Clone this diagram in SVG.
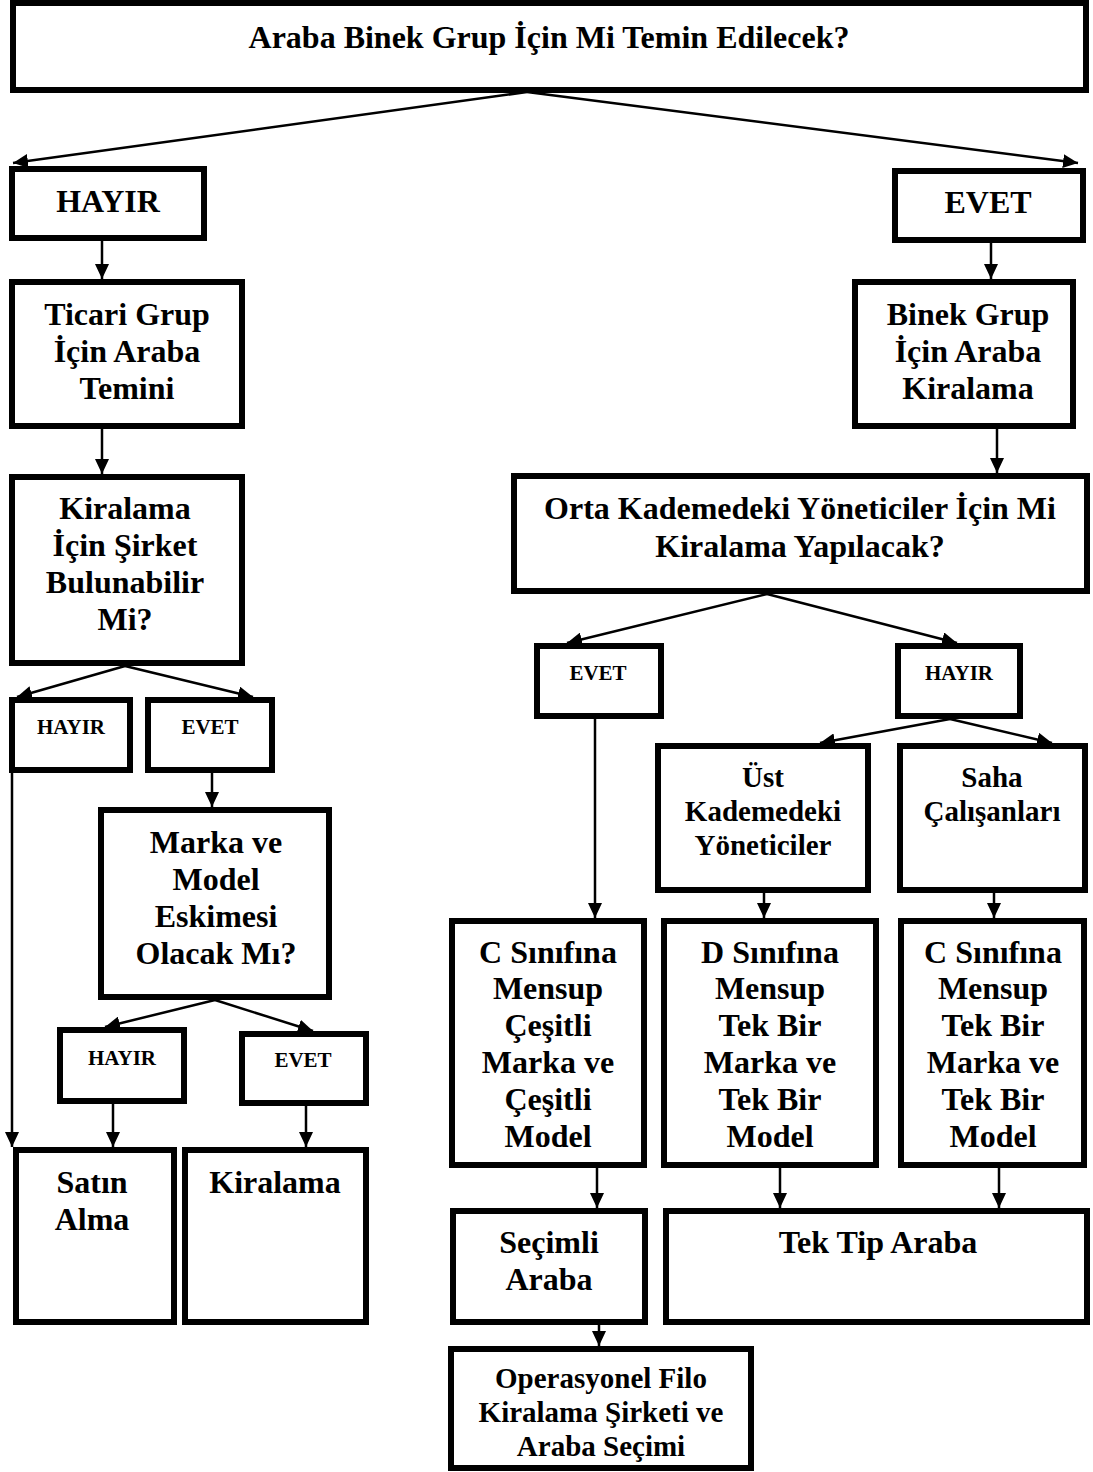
<svg xmlns="http://www.w3.org/2000/svg" width="1093" height="1472" viewBox="0 0 1093 1472">
  <style>
    .box { fill: #fff; stroke: #000; stroke-width: 6; }
    .lbl { font-family: "Liberation Serif", "Times New Roman", serif; font-weight: bold; text-anchor: middle; fill: #000; }
    .t32 { font-size: 32px; }
    .t29 { font-size: 29px; }
    .t21 { font-size: 21px; }
    .edge { fill: none; stroke: #000; stroke-width: 2.5; marker-end: url(#arrow); }
  </style>
  <defs>
    <marker id="arrow" markerUnits="userSpaceOnUse" markerWidth="16" markerHeight="14" refX="15" refY="7" orient="auto">
      <path d="M0,0 L15,7 L0,14 z" fill="#000"/>
    </marker>
  </defs>
  <rect width="1093" height="1472" fill="#fff"/>

  <g id="connectors">
    <path class="edge" d="M527,92 L13,163"/>
    <path class="edge" d="M527,92 L1078,163"/>
    <path class="edge" d="M102,241 L102,279"/>
    <path class="edge" d="M102,429 L102,474"/>
    <path class="edge" d="M125,666 L17,697"/>
    <path class="edge" d="M125,666 L253,697"/>
    <path class="edge" d="M12,773 L12,1147"/>
    <path class="edge" d="M212,773 L212,807"/>
    <path class="edge" d="M215,1000 L105,1027"/>
    <path class="edge" d="M215,1000 L313,1031"/>
    <path class="edge" d="M113,1104 L113,1147"/>
    <path class="edge" d="M306,1106 L306,1147"/>
    <path class="edge" d="M991,243 L991,279"/>
    <path class="edge" d="M997,429 L997,473"/>
    <path class="edge" d="M767,594 L567,643"/>
    <path class="edge" d="M767,594 L957,643"/>
    <path class="edge" d="M595,719 L595,918"/>
    <path class="edge" d="M950,719 L820,743"/>
    <path class="edge" d="M950,719 L1052,743"/>
    <path class="edge" d="M764,893 L764,918"/>
    <path class="edge" d="M994,893 L994,918"/>
    <path class="edge" d="M597,1168 L597,1208"/>
    <path class="edge" d="M780,1168 L780,1208"/>
    <path class="edge" d="M999,1168 L999,1208"/>
    <path class="edge" d="M599,1325 L599,1346"/>
  </g>

  <g id="q-binek">
    <rect class="box" x="13" y="3" width="1073" height="87"/>
    <text class="lbl t32" x="549" y="48">Araba Binek Grup İçin Mi Temin Edilecek?</text>
  </g>

  <g id="hayir-1">
    <rect class="box" x="12" y="169" width="192" height="69"/>
    <text class="lbl t32" x="108" y="212">HAYIR</text>
  </g>
  <g id="evet-1">
    <rect class="box" x="895" y="171" width="188" height="69"/>
    <text class="lbl t32" x="988" y="213">EVET</text>
  </g>

  <g id="ticari">
    <rect class="box" x="12" y="282" width="230" height="144"/>
    <text class="lbl t32" x="127" y="325">Ticari Grup</text>
    <text class="lbl t32" x="127" y="362">İçin Araba</text>
    <text class="lbl t32" x="127" y="399">Temini</text>
  </g>

  <g id="q-sirket">
    <rect class="box" x="12" y="477" width="230" height="186"/>
    <text class="lbl t32" x="125" y="519">Kiralama</text>
    <text class="lbl t32" x="125" y="556">İçin Şirket</text>
    <text class="lbl t32" x="125" y="593">Bulunabilir</text>
    <text class="lbl t32" x="125" y="630">Mi?</text>
  </g>

  <g id="hayir-2">
    <rect class="box" x="12" y="700" width="118" height="70"/>
    <text class="lbl t21" x="71" y="734">HAYIR</text>
  </g>
  <g id="evet-2">
    <rect class="box" x="148" y="700" width="124" height="70"/>
    <text class="lbl t21" x="210" y="734">EVET</text>
  </g>

  <g id="q-eskime">
    <rect class="box" x="101" y="810" width="228" height="187"/>
    <text class="lbl t32" x="216" y="853">Marka ve</text>
    <text class="lbl t32" x="216" y="890">Model</text>
    <text class="lbl t32" x="216" y="927">Eskimesi</text>
    <text class="lbl t32" x="216" y="964">Olacak Mı?</text>
  </g>

  <g id="hayir-3">
    <rect class="box" x="60" y="1030" width="124" height="71"/>
    <text class="lbl t21" x="122" y="1065">HAYIR</text>
  </g>
  <g id="evet-3">
    <rect class="box" x="242" y="1034" width="124" height="69"/>
    <text class="lbl t21" x="303" y="1067">EVET</text>
  </g>

  <g id="satin-alma">
    <rect class="box" x="16" y="1150" width="158" height="172"/>
    <text class="lbl t32" x="92" y="1193">Satın</text>
    <text class="lbl t32" x="92" y="1230">Alma</text>
  </g>
  <g id="kiralama">
    <rect class="box" x="185" y="1150" width="181" height="172"/>
    <text class="lbl t32" x="275" y="1193">Kiralama</text>
  </g>

  <g id="binek">
    <rect class="box" x="855" y="282" width="218" height="144"/>
    <text class="lbl t32" x="968" y="325">Binek Grup</text>
    <text class="lbl t32" x="968" y="362">İçin Araba</text>
    <text class="lbl t32" x="968" y="399">Kiralama</text>
  </g>

  <g id="q-orta">
    <rect class="box" x="514" y="476" width="573" height="115"/>
    <text class="lbl t32" x="800" y="519">Orta Kademedeki Yöneticiler İçin Mi</text>
    <text class="lbl t32" x="800" y="557">Kiralama Yapılacak?</text>
  </g>

  <g id="evet-4">
    <rect class="box" x="537" y="646" width="124" height="70"/>
    <text class="lbl t21" x="598" y="680">EVET</text>
  </g>
  <g id="hayir-4">
    <rect class="box" x="898" y="646" width="122" height="70"/>
    <text class="lbl t21" x="959" y="680">HAYIR</text>
  </g>

  <g id="ust-kademe">
    <rect class="box" x="658" y="746" width="210" height="144"/>
    <text class="lbl t29" x="763" y="787">Üst</text>
    <text class="lbl t29" x="763" y="821">Kademedeki</text>
    <text class="lbl t29" x="763" y="855">Yöneticiler</text>
  </g>
  <g id="saha">
    <rect class="box" x="900" y="746" width="185" height="144"/>
    <text class="lbl t29" x="992" y="787">Saha</text>
    <text class="lbl t29" x="992" y="821">Çalışanları</text>
  </g>

  <g id="c-cesitli">
    <rect class="box" x="452" y="921" width="192" height="244"/>
    <text class="lbl t32" x="548" y="963">C Sınıfına</text>
    <text class="lbl t32" x="548" y="999">Mensup</text>
    <text class="lbl t32" x="548" y="1036">Çeşitli</text>
    <text class="lbl t32" x="548" y="1073">Marka ve</text>
    <text class="lbl t32" x="548" y="1110">Çeşitli</text>
    <text class="lbl t32" x="548" y="1147">Model</text>
  </g>
  <g id="d-tek">
    <rect class="box" x="664" y="921" width="212" height="244"/>
    <text class="lbl t32" x="770" y="963">D Sınıfına</text>
    <text class="lbl t32" x="770" y="999">Mensup</text>
    <text class="lbl t32" x="770" y="1036">Tek Bir</text>
    <text class="lbl t32" x="770" y="1073">Marka ve</text>
    <text class="lbl t32" x="770" y="1110">Tek Bir</text>
    <text class="lbl t32" x="770" y="1147">Model</text>
  </g>
  <g id="c-tek">
    <rect class="box" x="901" y="921" width="183" height="244"/>
    <text class="lbl t32" x="993" y="963">C Sınıfına</text>
    <text class="lbl t32" x="993" y="999">Mensup</text>
    <text class="lbl t32" x="993" y="1036">Tek Bir</text>
    <text class="lbl t32" x="993" y="1073">Marka ve</text>
    <text class="lbl t32" x="993" y="1110">Tek Bir</text>
    <text class="lbl t32" x="993" y="1147">Model</text>
  </g>

  <g id="secimli">
    <rect class="box" x="453" y="1211" width="192" height="111"/>
    <text class="lbl t32" x="549" y="1253">Seçimli</text>
    <text class="lbl t32" x="549" y="1290">Araba</text>
  </g>
  <g id="tek-tip">
    <rect class="box" x="666" y="1211" width="421" height="111"/>
    <text class="lbl t32" x="878" y="1253">Tek Tip Araba</text>
  </g>

  <g id="operasyonel">
    <rect class="box" x="451" y="1349" width="300" height="119"/>
    <text class="lbl t29" x="601" y="1388">Operasyonel Filo</text>
    <text class="lbl t29" x="601" y="1422">Kiralama Şirketi ve</text>
    <text class="lbl t29" x="601" y="1456">Araba Seçimi</text>
  </g>
</svg>
